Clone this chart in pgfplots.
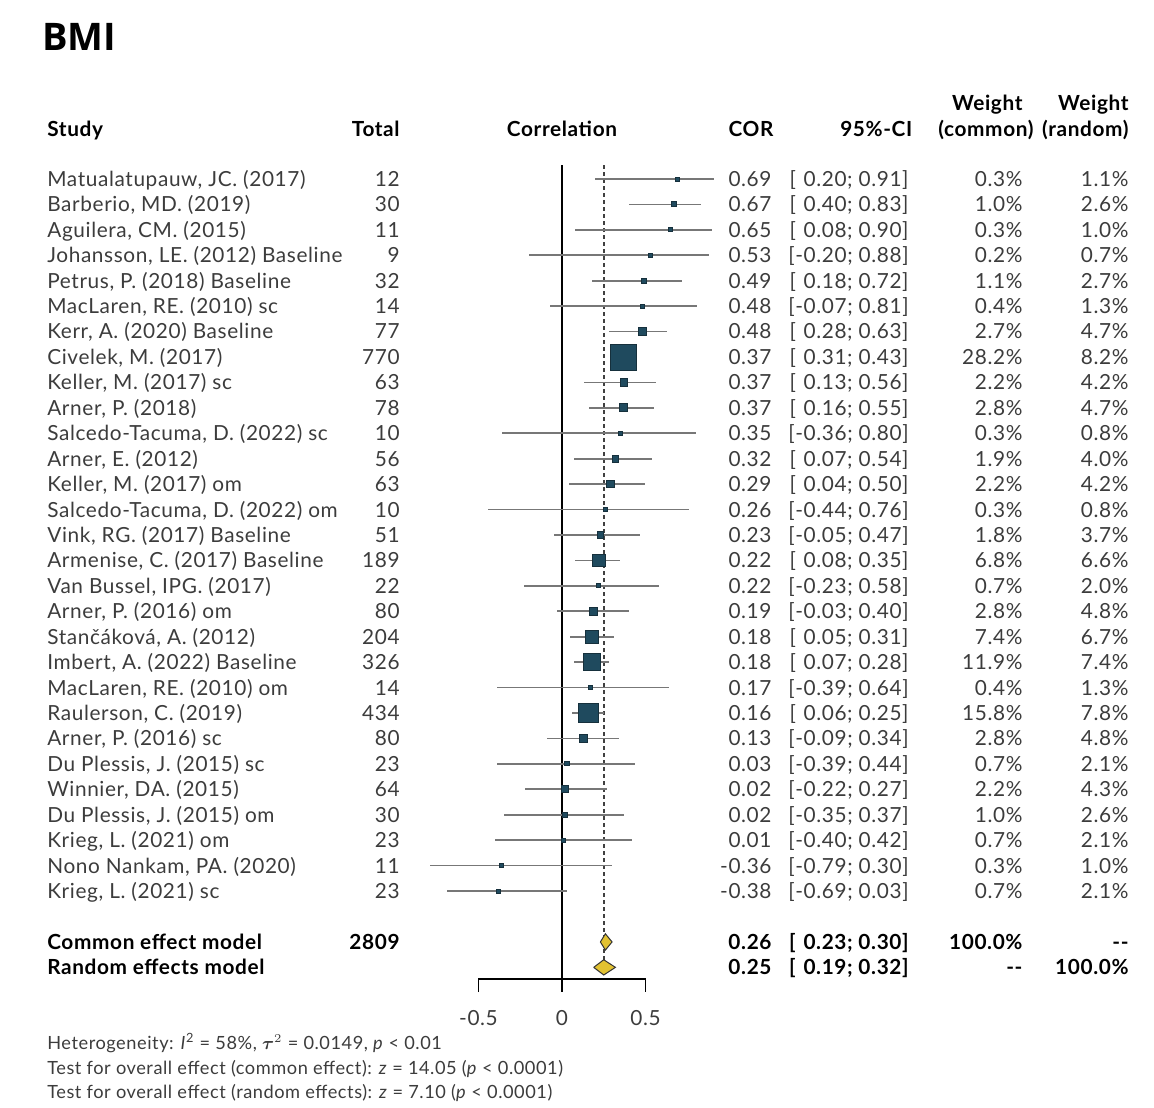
\documentclass[border=0pt]{standalone}
\usepackage{amsmath}
\usepackage{fontspec}
\setmainfont{Lato}[LetterSpace=3]
\newfontfamily\titlefont{Open Sans}
\usepackage{pgfplots}
\pgfplotsset{compat=1.18}
\usepackage{pgfplotstable}

\definecolor{sqfill}{HTML}{1F4A5E}
\definecolor{sqdraw}{HTML}{16303C}
\definecolor{cigray}{HTML}{777777}
\definecolor{dmfill}{HTML}{E2C232}
\definecolor{txt}{HTML}{3C3C3C}

% correlation, 95% CI and common-effect weight (%) per study, top to bottom
\pgfplotstableread{
row est lo hi wc
1 0.69 0.20 0.91 0.3
2 0.67 0.40 0.83 1.0
3 0.65 0.08 0.90 0.3
4 0.53 -0.20 0.88 0.2
5 0.49 0.18 0.72 1.1
6 0.48 -0.07 0.81 0.4
7 0.48 0.28 0.63 2.7
8 0.37 0.31 0.43 28.2
9 0.37 0.13 0.56 2.2
10 0.37 0.16 0.55 2.8
11 0.35 -0.36 0.80 0.3
12 0.32 0.07 0.54 1.9
13 0.29 0.04 0.50 2.2
14 0.26 -0.44 0.76 0.3
15 0.23 -0.05 0.47 1.8
16 0.22 0.08 0.35 6.8
17 0.22 -0.23 0.58 0.7
18 0.19 -0.03 0.40 2.8
19 0.18 0.05 0.31 7.4
20 0.18 0.07 0.28 11.9
21 0.17 -0.39 0.64 0.4
22 0.16 0.06 0.25 15.8
23 0.13 -0.09 0.34 2.8
24 0.03 -0.39 0.44 0.7
25 0.02 -0.22 0.27 2.2
26 0.02 -0.35 0.37 1.0
27 0.01 -0.40 0.42 0.7
28 -0.36 -0.79 0.30 0.3
29 -0.38 -0.69 0.03 0.7
}\studies

\newcommand{\p}{\hphantom{-}}
\newcommand{\nd}{-{}-}

\begin{document}
\begin{tikzpicture}[x=83.5pt,y=12.715pt]
\useasboundingbox (-3.365,-37.53) rectangle (3.545,6.039);
\begin{axis}[
  anchor=origin, at={(0,0)},
  x=83.5pt, y=12.715pt,
  xmin=-3.365, xmax=3.545, ymin=-37.53, ymax=6.039,
  hide axis, clip=false,
]
% reference lines: no effect (solid) and pooled estimate (dashed)
\addplot[black, line width=0.6pt] coordinates {(0,-0.45) (0,-32.46)};
\addplot[black!75, line width=0.8pt, dash pattern=on 2.2pt off 1.3pt] coordinates {(0.25,-0.45) (0.25,-32)};

% confidence intervals
\addplot[draw=none, mark=none, error bars/.cd, x dir=both, x explicit, error mark=none,
  error bar style={draw=cigray, line width=0.85pt}]
  table[x=est, y expr=-\thisrow{row},
        x error plus expr=\thisrow{hi}-\thisrow{est},
        x error minus expr=\thisrow{est}-\thisrow{lo}] {\studies};

% study squares, area proportional to weight
\addplot[scatter, only marks, mark=square*,
  scatter/use mapped color={draw=sqdraw, fill=sqfill},
  mark options={line width=0.5pt},
  visualization depends on={max(1.224*sqrt(\thisrow{wc}),1.0) \as \msize},
  scatter/@pre marker code/.append style={/tikz/mark size=\msize}]
  table[x=est, y expr=-\thisrow{row}] {\studies};

% interval segment across each square
\addplot[draw=none, mark=none, error bars/.cd, x dir=both, x explicit, error mark=none,
  error bar style={draw=black!80, line width=0.6pt}]
  table[x=est, y expr=-\thisrow{row},
        x error plus expr={min(\thisrow{hi}-\thisrow{est},1.224*sqrt(\thisrow{wc})/83.5)},
        x error minus expr={min(\thisrow{est}-\thisrow{lo},1.224*sqrt(\thisrow{wc})/83.5)}] {\studies};
\addplot[white, line width=0.7pt] coordinates {(0.31,-8) (0.43,-8)};
\addplot[white, line width=0.7pt] coordinates {(0.37,-8.22) (0.37,-7.78)};

% pooled estimates
\addplot[fill=dmfill, draw=black!80, line width=0.5pt] coordinates {(0.23,-31) (0.26,-30.68) (0.30,-31) (0.26,-31.32) (0.23,-31)};
\addplot[fill=dmfill, draw=black!80, line width=0.5pt] coordinates {(0.19,-32) (0.25,-31.7) (0.32,-32) (0.25,-32.3) (0.19,-32)};

% x axis
\addplot[black, line width=0.6pt] coordinates {(-0.5,-32.97) (-0.5,-32.46) (0.5,-32.46) (0.5,-32.97)};
\addplot[black, line width=0.6pt] coordinates {(0,-32.46) (0,-32.97)};
\end{axis}

\begin{scope}[every node/.style={inner sep=0pt, text=txt, font=\fontsize{10.4}{12}\selectfont, yshift=-3.7pt},
  L/.style={anchor=base west}, R/.style={anchor=base east}, C/.style={anchor=base}]
\node[L, text=black, font=\titlefont\bfseries\fontsize{19}{22}\selectfont, yshift=0pt] at (-3.114,4.348) {BMI};

% column headers
\begin{scope}[every node/.append style={text=black, font=\bfseries\fontsize{10.4}{12}\selectfont}]
\node[L] at (-3.084,0.966) {Study};
\node[R] at (-0.970,0.966) {Total};
\node[C] at (0,0.966) {Correlation};
\node[R] at (1.269,0.966) {COR};
\node[R] at (2.100,0.966) {95\%-CI};
\node[R] at (2.760,1.99) {Weight};
\node[R] at (2.826,0.966) {(common)};
\node[R] at (3.395,1.99) {Weight};
\node[R] at (3.395,0.966) {(random)};
\end{scope}

\foreach \r/\name/\n/\cor/\ci/\wc/\wr in {
 1/{Matualatupauw, JC. (2017)}/12/0.69/{[\p0.20; 0.91]}/0.3/1.1,
 2/{Barberio, MD. (2019)}/30/0.67/{[\p0.40; 0.83]}/1.0/2.6,
 3/{Aguilera, CM. (2015)}/11/0.65/{[\p0.08; 0.90]}/0.3/1.0,
 4/{Johansson, LE. (2012) Baseline}/9/0.53/{[-0.20; 0.88]}/0.2/0.7,
 5/{Petrus, P. (2018) Baseline}/32/0.49/{[\p0.18; 0.72]}/1.1/2.7,
 6/{MacLaren, RE. (2010) sc}/14/0.48/{[-0.07; 0.81]}/0.4/1.3,
 7/{Kerr, A. (2020) Baseline}/77/0.48/{[\p0.28; 0.63]}/2.7/4.7,
 8/{Civelek, M. (2017)}/770/0.37/{[\p0.31; 0.43]}/28.2/8.2,
 9/{Keller, M. (2017) sc}/63/0.37/{[\p0.13; 0.56]}/2.2/4.2,
 10/{Arner, P. (2018)}/78/0.37/{[\p0.16; 0.55]}/2.8/4.7,
 11/{Salcedo-Tacuma, D. (2022) sc}/10/0.35/{[-0.36; 0.80]}/0.3/0.8,
 12/{Arner, E. (2012)}/56/0.32/{[\p0.07; 0.54]}/1.9/4.0,
 13/{Keller, M. (2017) om}/63/0.29/{[\p0.04; 0.50]}/2.2/4.2,
 14/{Salcedo-Tacuma, D. (2022) om}/10/0.26/{[-0.44; 0.76]}/0.3/0.8,
 15/{Vink, RG. (2017) Baseline}/51/0.23/{[-0.05; 0.47]}/1.8/3.7,
 16/{Armenise, C. (2017) Baseline}/189/0.22/{[\p0.08; 0.35]}/6.8/6.6,
 17/{Van Bussel, IPG. (2017)}/22/0.22/{[-0.23; 0.58]}/0.7/2.0,
 18/{Arner, P. (2016) om}/80/0.19/{[-0.03; 0.40]}/2.8/4.8,
 19/{Stančáková, A. (2012)}/204/0.18/{[\p0.05; 0.31]}/7.4/6.7,
 20/{Imbert, A. (2022) Baseline}/326/0.18/{[\p0.07; 0.28]}/11.9/7.4,
 21/{MacLaren, RE. (2010) om}/14/0.17/{[-0.39; 0.64]}/0.4/1.3,
 22/{Raulerson, C. (2019)}/434/0.16/{[\p0.06; 0.25]}/15.8/7.8,
 23/{Arner, P. (2016) sc}/80/0.13/{[-0.09; 0.34]}/2.8/4.8,
 24/{Du Plessis, J. (2015) sc}/23/0.03/{[-0.39; 0.44]}/0.7/2.1,
 25/{Winnier, DA. (2015)}/64/0.02/{[-0.22; 0.27]}/2.2/4.3,
 26/{Du Plessis, J. (2015) om}/30/0.02/{[-0.35; 0.37]}/1.0/2.6,
 27/{Krieg, L. (2021) om}/23/0.01/{[-0.40; 0.42]}/0.7/2.1,
 28/{Nono Nankam, PA. (2020)}/11/-0.36/{[-0.79; 0.30]}/0.3/1.0,
 29/{Krieg, L. (2021) sc}/23/-0.38/{[-0.69; 0.03]}/0.7/2.1}{
  \node[L] at (-3.084,-\r) {\name};
  \node[R] at (-0.970,-\r) {\n};
  \node[R] at (1.257,-\r) {\cor};
  \node[R] at (2.078,-\r) {\ci};
  \node[R] at (2.760,-\r) {\wc\%};
  \node[R] at (3.395,-\r) {\wr\%};
}

% pooled rows
\begin{scope}[every node/.append style={text=black, font=\bfseries\fontsize{10.4}{12}\selectfont}]
\node[L] at (-3.084,-31) {Common effect model};
\node[R] at (-0.970,-31) {2809};
\node[R] at (1.257,-31) {0.26};
\node[R] at (2.078,-31) {[\p0.23; 0.30]};
\node[R] at (2.760,-31) {100.0\%};
\node[R] at (3.395,-31) {\nd};
\node[L] at (-3.084,-32) {Random effects model};
\node[R] at (1.257,-32) {0.25};
\node[R] at (2.078,-32) {[\p0.19; 0.32]};
\node[R] at (2.760,-32) {\nd};
\node[R] at (3.395,-32) {100.0\%};
\end{scope}

% tick labels
\node[C] at (-0.5,-33.99) {-0.5};
\node[C] at (0,-33.99) {0};
\node[C] at (0.5,-33.99) {0.5};

% test statistics
\begin{scope}[every node/.append style={font=\fontsize{9.1}{11}\selectfont, yshift=0.4pt}]
\node[L] at (-3.084,-34.98) {Heterogeneity: \textit{I}\textsuperscript{2} = 58\%, $\boldsymbol{\tau}^2$ = 0.0149, \textit{p} < 0.01};
\node[L] at (-3.084,-35.96) {Test for overall effect (common effect): \textit{z} = 14.05 (\textit{p} < 0.0001)};
\node[L] at (-3.084,-36.90) {Test for overall effect (random effects): \textit{z} = 7.10 (\textit{p} < 0.0001)};
\end{scope}
\end{scope}
\end{tikzpicture}
\end{document}
